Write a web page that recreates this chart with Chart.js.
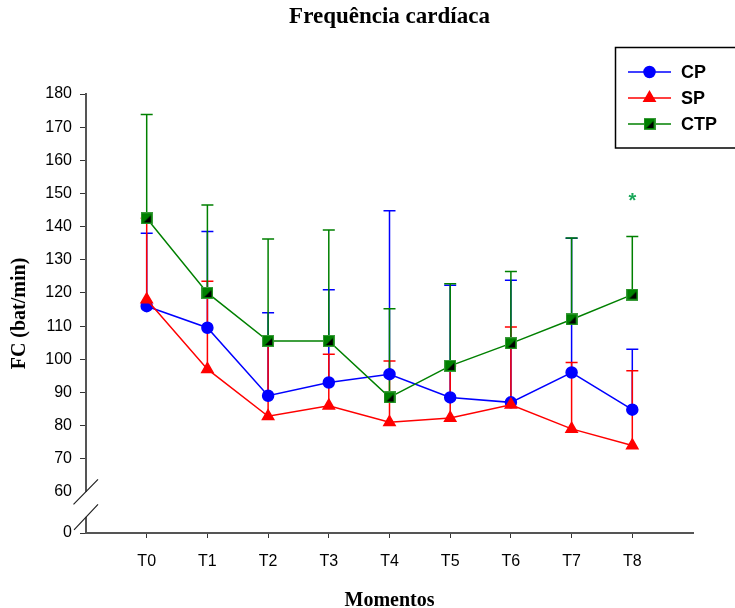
<!DOCTYPE html>
<html>
<head>
<meta charset="utf-8">
<script src="https://cdn.jsdelivr.net/npm/chart.js@4"></script>
<style>
  html, body { margin: 0; padding: 0; background: #fff; }
  canvas { display: block; }
</style>
</head>
<body>
<canvas id="chart" width="735" height="608"></canvas>
<script>
// momentos
const labels = ['T0', 'T1', 'T2', 'T3', 'T4', 'T5', 'T6', 'T7', 'T8']

// means and the top of each (one-sided) error bar
const cp = [116, 109.5, 89, 93, 95.5, 88.5, 87, 96, 84.8]
const cpUp = [138, 138.5, 114, 121, 144.8, 122.3, 123.8, 136.5, 103]
const sp = [118, 97, 82.8, 86, 81, 82.3, 86.3, 79, 74]
const spUp = [142.5, 123.5, 105, 101.5, 99.5, 98, 109.7, 99, 96.5]
const ctp = [142.5, 120, 105.5, 105.5, 88.5, 98, 104.8, 112, 119.5]
const ctpUp = [173.8, 146.5, 136.3, 139, 115.2, 122.8, 126.5, 136.6, 137]

// y ticks (the axis is broken between 0 and 60)
const yTicks = [0, 60, 70, 80, 90, 100, 110, 120, 130, 140, 150, 160, 170, 180]
const Y_ZERO_AT = 47.6 // where "0" sits on the broken axis
const Y_MAX = 180

// significance mark
const starIndex = 8
const starValue = 149

const BLUE = '#0000ff'
const RED = '#ff0000'
const GREEN = '#008000'
const AXIS = '#555555'
const SERIF = '"Liberation Serif", "Times New Roman", serif'
const SANS = '"Liberation Sans", Arial, sans-serif'

// green square with the black half used by SigmaPlot
function squareMarker(size) {
    const c = document.createElement('canvas')
    c.width = size
    c.height = size
    const g = c.getContext('2d')
    g.fillStyle = '#3a9a3a'
    g.fillRect(0, 0, size, size)
    g.fillStyle = GREEN
    g.fillRect(1, 1, size - 2, size - 2)
    g.fillStyle = '#000'
    g.beginPath()
    g.moveTo(3, size - 2)
    g.lineTo(size - 2, size - 2)
    g.lineTo(size - 2, 3)
    g.closePath()
    g.fill()
    return c
}
const ctpMarker = squareMarker(12)

const toPoints = (arr) => arr.map((v, i) => ({ x: i, y: v }))

const errorBars = {
    id: 'errorBars',
    beforeDatasetsDraw(chart) {
        const { ctx, scales: { x, y } } = chart
        ctx.save()
        chart.data.datasets.forEach((ds) => {
            ctx.strokeStyle = ds.borderColor
            ctx.lineWidth = 1.5
            ds.data.forEach((p, i) => {
                const px = x.getPixelForValue(p.x)
                const y0 = y.getPixelForValue(p.y)
                const y1 = y.getPixelForValue(ds.upper[i])
                ctx.beginPath()
                ctx.moveTo(px, y0)
                ctx.lineTo(px, y1)
                ctx.moveTo(px - 6, y1)
                ctx.lineTo(px + 6, y1)
                ctx.stroke()
            })
        })
        ctx.restore()
    }
}

const extras = {
    id: 'extras',
    afterDraw(chart) {
        const { ctx, scales: { x, y } } = chart
        ctx.save()
        // axis break
        const ax = y.right
        const y60 = y.getPixelForValue(60)
        ctx.fillStyle = '#fff'
        ctx.fillRect(ax - 3, y60, 6, 25)
        ctx.strokeStyle = '#222'
        ctx.lineWidth = 1.2
        ctx.beginPath()
        ctx.moveTo(ax - 12.5, y60 + 12.5)
        ctx.lineTo(ax + 12, y60 - 12.5)
        ctx.moveTo(ax - 12, y60 + 38)
        ctx.lineTo(ax + 12, y60 + 12.5)
        ctx.stroke()

        // asterisk
        ctx.fillStyle = '#1aa85a'
        ctx.font = 'bold 20px ' + SANS
        ctx.textAlign = 'center'
        ctx.textBaseline = 'middle'
        ctx.fillText('*', x.getPixelForValue(starIndex), y.getPixelForValue(starValue) + 5)

        // legend box
        ctx.strokeStyle = '#000'
        ctx.lineWidth = 1.5
        ctx.strokeRect(615.5, 47.5, 130, 100.5)
        const rows = [72, 98, 124]
        chart.data.datasets.forEach((ds, i) => {
            const ly = rows[i]
            ctx.strokeStyle = ds.borderColor
            ctx.lineWidth = 1.5
            ctx.beginPath()
            ctx.moveTo(628, ly)
            ctx.lineTo(671, ly)
            ctx.stroke()
            ctx.fillStyle = ds.pointBackgroundColor
            ctx.strokeStyle = ds.pointBorderColor
            Chart.helpers.drawPoint(ctx, {
                pointStyle: ds.pointStyle,
                radius: ds.pointRadius,
                rotation: 0,
                borderWidth: 1
            }, 649.5, ly)
            ctx.fillStyle = '#000'
            ctx.font = 'bold 18px ' + SANS
            ctx.textAlign = 'left'
            ctx.textBaseline = 'middle'
            ctx.fillText(ds.label, 681, ly + 1)
        })
        ctx.restore()
    }
}

new Chart(document.getElementById('chart'), {
    type: 'line',
    data: {
        datasets: [
            {
                label: 'CP',
                data: toPoints(cp),
                upper: cpUp,
                borderColor: BLUE,
                borderWidth: 1.5,
                pointStyle: 'circle',
                pointRadius: 5.5,
                pointBackgroundColor: BLUE,
                pointBorderColor: BLUE,
                order: 2
            },
            {
                label: 'SP',
                data: toPoints(sp),
                upper: spUp,
                borderColor: RED,
                borderWidth: 1.5,
                pointStyle: 'triangle',
                pointRadius: 6.5,
                pointBackgroundColor: RED,
                pointBorderColor: RED,
                order: 1
            },
            {
                label: 'CTP',
                data: toPoints(ctp),
                upper: ctpUp,
                borderColor: GREEN,
                borderWidth: 1.5,
                pointStyle: ctpMarker,
                pointRadius: 6,
                pointBackgroundColor: GREEN,
                pointBorderColor: GREEN,
                order: 0
            }
        ]
    },
    options: {
        responsive: false,
        animation: false,
        devicePixelRatio: 1,
        layout: { padding: { left: 0, right: 42, top: 0, bottom: 0 } },
        plugins: {
            legend: { display: false },
            tooltip: { enabled: false },
            title: {
                display: true,
                text: 'Frequência cardíaca',
                color: '#000',
                fullSize: false,
                font: { family: SERIF, size: 23, weight: 'bold', lineHeight: 1.2 },
                padding: { top: 3, bottom: 63.4 }
            }
        },
        scales: {
            x: {
                type: 'linear',
                min: -1,
                max: 9,
                afterBuildTicks: (scale) => {
                    scale.ticks = labels.map((_, i) => ({ value: i }))
                },
                afterFit: (scale) => { scale.height = 75 },
                ticks: {
                    callback: (v) => labels[v],
                    color: '#000',
                    font: { family: SANS, size: 16 },
                    padding: 14,
                    maxRotation: 0
                },
                grid: { drawOnChartArea: false, drawTicks: true, tickLength: 5, color: '#333', lineWidth: 1 },
                border: { color: AXIS, width: 2 },
                title: {
                    display: true,
                    text: 'Momentos',
                    color: '#000',
                    font: { family: SERIF, size: 20, weight: 'bold', lineHeight: 0.75 },
                    padding: { top: 0, bottom: 0 }
                }
            },
            y: {
                type: 'linear',
                min: Y_ZERO_AT,
                max: Y_MAX,
                afterBuildTicks: (scale) => {
                    scale.ticks = yTicks.map((v) => ({ value: v === 0 ? Y_ZERO_AT : v }))
                },
                afterFit: (scale) => { scale.width = 86 },
                ticks: {
                    callback: (v) => (v === Y_ZERO_AT ? '0' : String(v)),
                    color: '#000',
                    font: { family: SANS, size: 16 },
                    padding: 8
                },
                grid: {
                    drawOnChartArea: false,
                    drawTicks: true,
                    tickLength: 6,
                    lineWidth: 1,
                    color: (c) => (c.tick && c.tick.value === 60 ? 'rgba(0,0,0,0)' : '#333')
                },
                border: { color: AXIS, width: 2 },
                title: {
                    display: true,
                    text: 'FC (bat/min)',
                    color: '#000',
                    font: { family: SERIF, size: 20, weight: 'bold' },
                    padding: { top: 8, bottom: 0 }
                }
            }
        }
    },
    plugins: [errorBars, extras]
})
</script>
</body>
</html>
